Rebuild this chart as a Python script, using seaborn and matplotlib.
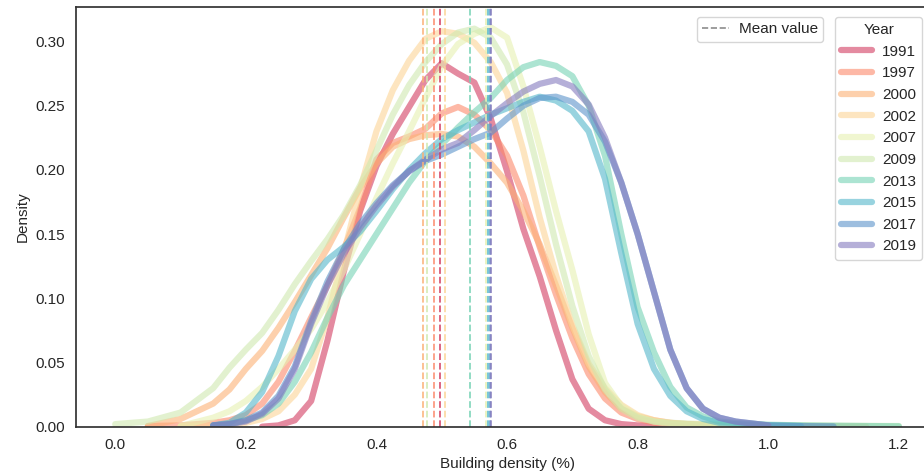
import numpy as np
import pandas as pd
import matplotlib
matplotlib.use("Agg")
import matplotlib.pyplot as plt
import seaborn as sns
from matplotlib.lines import Line2D

nan = np.nan

# Building density grid (%) on which the kernel density curves are tabulated
X = [0.0, 0.05, 0.1, 0.15, 0.175, 0.2, 0.225, 0.25, 0.275, 0.3, 0.325, 0.35,
     0.375, 0.4, 0.425, 0.45, 0.475, 0.5, 0.525, 0.55, 0.575, 0.6, 0.625, 0.65,
     0.675, 0.7, 0.725, 0.75, 0.775, 0.8, 0.825, 0.85, 0.875, 0.9, 0.925, 0.95,
     1.0, 1.05, 1.1, 1.15, 1.2]

years = ["1991", "1997", "2000", "2002", "2007", "2009", "2013", "2015", "2017", "2019"]

d1991 = [nan, nan, nan, nan, nan, nan, 0.000, 0.001, 0.005, 0.020, 0.067, 0.121,
         0.168, 0.203, 0.228, 0.249, 0.270, 0.283, 0.275, 0.268, 0.240, 0.199, 0.154, 0.117,
         0.075, 0.037, 0.014, 0.005, 0.002, 0.001, 0.0006, 0.0004, 0.0002, 0.0001, nan, nan,
         nan, nan, nan, nan, nan]
d1997 = [nan, 0.0005, 0.001, 0.003, 0.005, 0.009, 0.018, 0.035, 0.059, 0.085, 0.110, 0.138,
         0.170, 0.208, 0.221, 0.226, 0.232, 0.244, 0.249, 0.243, 0.231, 0.211, 0.180, 0.140,
         0.103, 0.069, 0.041, 0.022, 0.011, 0.006, 0.003, 0.002, 0.0015, 0.001, 0.0008, 0.0006,
         0.0004, 0.0002, 0.0001, nan, nan]
d2000 = [nan, 0.0005, 0.006, 0.018, 0.029, 0.045, 0.059, 0.077, 0.097, 0.118, 0.139, 0.163,
         0.186, 0.205, 0.218, 0.224, 0.227, 0.228, 0.226, 0.218, 0.205, 0.190, 0.168, 0.142,
         0.110, 0.077, 0.047, 0.027, 0.014, 0.008, 0.005, 0.003, 0.002, 0.0015, 0.001, 0.0008,
         0.0005, 0.0003, 0.0002, 0.0001, nan]
d2002 = [nan, nan, 0.0005, 0.001, 0.002, 0.003, 0.006, 0.012, 0.025, 0.045, 0.085, 0.135,
         0.185, 0.230, 0.262, 0.285, 0.302, 0.308, 0.306, 0.299, 0.284, 0.260, 0.215, 0.163,
         0.118, 0.079, 0.049, 0.030, 0.017, 0.009, 0.005, 0.003, 0.002, 0.0015, 0.001, 0.0008,
         0.0004, 0.0002, nan, nan, nan]
d2007 = [nan, nan, 0.0005, 0.007, 0.012, 0.020, 0.031, 0.045, 0.060, 0.076, 0.097, 0.122,
         0.150, 0.178, 0.205, 0.230, 0.256, 0.281, 0.298, 0.306, 0.311, 0.303, 0.265, 0.218,
         0.168, 0.122, 0.072, 0.034, 0.016, 0.008, 0.004, 0.002, 0.0015, 0.001, 0.0008, 0.0005,
         0.0003, nan, nan, nan, nan]
d2009 = [0.002, 0.004, 0.011, 0.030, 0.046, 0.060, 0.073, 0.091, 0.111, 0.129, 0.146, 0.165,
         0.188, 0.215, 0.243, 0.266, 0.284, 0.298, 0.307, 0.310, 0.303, 0.282, 0.245, 0.195,
         0.142, 0.094, 0.055, 0.029, 0.014, 0.007, 0.004, 0.003, 0.0025, 0.002, 0.0018, 0.0015,
         0.0012, 0.001, 0.0008, 0.0006, 0.0005]
d2013 = [nan, nan, nan, 0.001, 0.002, 0.005, 0.009, 0.018, 0.035, 0.058, 0.085, 0.110,
         0.130, 0.150, 0.170, 0.190, 0.207, 0.220, 0.233, 0.245, 0.256, 0.270, 0.280, 0.284,
         0.281, 0.273, 0.250, 0.211, 0.150, 0.093, 0.058, 0.031, 0.015, 0.008, 0.004, 0.003,
         0.0015, 0.001, 0.0007, 0.0005, 0.0003]
d2015 = [nan, nan, nan, 0.001, 0.003, 0.011, 0.027, 0.055, 0.090, 0.115, 0.130, 0.140,
         0.152, 0.168, 0.185, 0.200, 0.213, 0.224, 0.231, 0.237, 0.243, 0.248, 0.253, 0.257,
         0.254, 0.246, 0.230, 0.193, 0.135, 0.080, 0.045, 0.024, 0.012, 0.006, 0.003, 0.002,
         0.001, 0.0005, nan, nan, nan]
d2017 = [nan, nan, nan, 0.001, 0.002, 0.005, 0.011, 0.024, 0.047, 0.082, 0.113, 0.138,
         0.158, 0.174, 0.188, 0.199, 0.207, 0.212, 0.218, 0.224, 0.229, 0.240, 0.250, 0.256,
         0.257, 0.253, 0.243, 0.222, 0.190, 0.150, 0.105, 0.060, 0.030, 0.014, 0.007, 0.004,
         0.001, 0.0005, 0.0002, nan, nan]
d2019 = [nan, nan, nan, 0.001, 0.002, 0.004, 0.010, 0.022, 0.045, 0.080, 0.110, 0.135,
         0.155, 0.172, 0.187, 0.199, 0.208, 0.216, 0.221, 0.231, 0.242, 0.252, 0.261, 0.267,
         0.270, 0.265, 0.251, 0.225, 0.190, 0.150, 0.105, 0.060, 0.030, 0.014, 0.007, 0.004,
         0.001, nan, nan, nan, nan]

# Mean building density per year
means = [0.497, 0.4875, 0.4706, 0.5054, 0.568, 0.478, 0.5436, 0.571, 0.574, 0.575]

colors = ["#d23c61", "#fc8a6b", "#fcb176", "#fcd596", "#e6f0b1",
          "#cfe9af", "#75d2b4", "#53b7cb", "#5c94cb", "#857bbe"]

series = [d1991, d1997, d2000, d2002, d2007, d2009, d2013, d2015, d2017, d2019]

frames = []
for yr, vals in zip(years, series):
    frames.append(pd.DataFrame({"x": X, "density": vals, "Year": yr}))
df = pd.concat(frames, ignore_index=True).dropna()

palette = dict(zip(years, colors))

sns.set_style("white")
plt.rcParams["font.family"] = ["Liberation Sans", "DejaVu Sans"]
plt.rcParams.update({
    "axes.edgecolor": "0.2",
    "axes.linewidth": 1.25,
    "xtick.major.size": 0,
    "ytick.major.size": 0,
    "xtick.major.pad": 8,
    "ytick.major.pad": 8,
    "xtick.labelsize": 11,
    "ytick.labelsize": 11,
    "axes.labelsize": 11,
    "text.color": "0.15",
    "axes.labelcolor": "0.15",
    "xtick.color": "0.15",
    "ytick.color": "0.15",
})

fig = plt.figure(figsize=(9.24, 4.72), dpi=100)
ax = fig.add_axes([0.0823, 0.0960, 0.9329, 0.8883])

sns.lineplot(data=df, x="x", y="density", hue="Year", hue_order=years,
             palette=palette, linewidth=4.5, alpha=0.6, legend=False,
             estimator=None, errorbar=None, sort=True, ax=ax)

for yr, m in zip(years, means):
    ax.axvline(m, color=palette[yr], ls="--", lw=1.3, alpha=0.85)

ax.set_ylim(bottom=0)
ax.set_xlabel("Building density (%)")
ax.set_ylabel("Density")

mean_handle = [Line2D([0], [0], color="0.55", ls="--", lw=1.2)]
leg_mean = ax.legend(mean_handle, ["Mean value"], loc="upper right",
                     bbox_to_anchor=(823 / 924, 1 - 17 / 472),
                     bbox_transform=fig.transFigure, borderaxespad=0,
                     fontsize=11, handlelength=1.8, handletextpad=0.6,
                     borderpad=0.35, frameon=True)
ax.add_artist(leg_mean)

year_handles = [Line2D([0], [0], color=palette[yr], lw=4.5, alpha=0.6,
                       solid_capstyle="round") for yr in years]
ax.legend(year_handles, years, title="Year", loc="upper left",
          bbox_to_anchor=(835 / 924, 1 - 17 / 472),
          bbox_transform=fig.transFigure, borderaxespad=0,
          fontsize=11, title_fontsize=11, labelspacing=0.5,
          handlelength=2.0, handletextpad=0.7, frameon=True)

fig.savefig("out.png", dpi=100)
